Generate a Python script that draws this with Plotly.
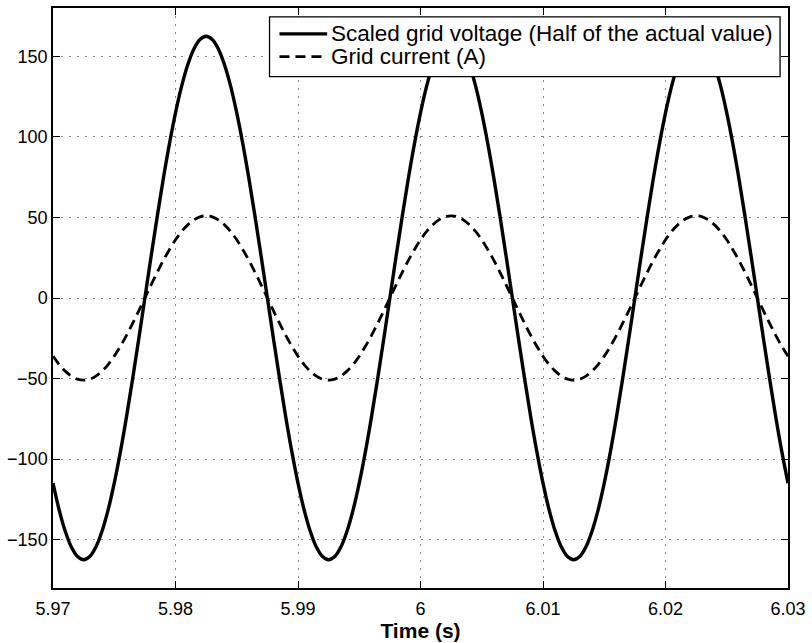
import numpy as np
import plotly.graph_objects as go

# Time axis: 5.970 s to 6.030 s, 0.5 ms sampling
time_s = np.round(np.linspace(5.970, 6.030, 121), 4)

voltage_scaled = [
    -114.9, -131.5, -144.8, -154.6, -160.5, -162.5, -160.5, -154.6, -144.8, -131.5,
    -114.9, -95.5, -73.8, -50.2, -25.4, 0.0, 25.4, 50.2, 73.8, 95.5,
    114.9, 131.5, 144.8, 154.6, 160.5, 162.5, 160.5, 154.6, 144.8, 131.5,
    114.9, 95.5, 73.8, 50.2, 25.4, 0.0, -25.4, -50.2, -73.8, -95.5,
    -114.9, -131.5, -144.8, -154.6, -160.5, -162.5, -160.5, -154.6, -144.8, -131.5,
    -114.9, -95.5, -73.8, -50.2, -25.4, 0.0, 25.4, 50.2, 73.8, 95.5,
    114.9, 131.5, 144.8, 154.6, 160.5, 162.5, 160.5, 154.6, 144.8, 131.5,
    114.9, 95.5, 73.8, 50.2, 25.4, 0.0, -25.4, -50.2, -73.8, -95.5,
    -114.9, -131.5, -144.8, -154.6, -160.5, -162.5, -160.5, -154.6, -144.8, -131.5,
    -114.9, -95.5, -73.8, -50.2, -25.4, 0.0, 25.4, 50.2, 73.8, 95.5,
    114.9, 131.5, 144.8, 154.6, 160.5, 162.5, 160.5, 154.6, 144.8, 131.5,
    114.9, 95.5, 73.8, 50.2, 25.4, 0.0, -25.4, -50.2, -73.8, -95.5,
    -114.9,
]

grid_current = [
    -36.1, -41.3, -45.4, -48.5, -50.4, -51.0, -50.4, -48.5, -45.4, -41.3,
    -36.1, -30.0, -23.2, -15.8, -8.0, 0.0, 8.0, 15.8, 23.2, 30.0,
    36.1, 41.3, 45.4, 48.5, 50.4, 51.0, 50.4, 48.5, 45.4, 41.3,
    36.1, 30.0, 23.2, 15.8, 8.0, 0.0, -8.0, -15.8, -23.2, -30.0,
    -36.1, -41.3, -45.4, -48.5, -50.4, -51.0, -50.4, -48.5, -45.4, -41.3,
    -36.1, -30.0, -23.2, -15.8, -8.0, 0.0, 8.0, 15.8, 23.2, 30.0,
    36.1, 41.3, 45.4, 48.5, 50.4, 51.0, 50.4, 48.5, 45.4, 41.3,
    36.1, 30.0, 23.2, 15.8, 8.0, 0.0, -8.0, -15.8, -23.2, -30.0,
    -36.1, -41.3, -45.4, -48.5, -50.4, -51.0, -50.4, -48.5, -45.4, -41.3,
    -36.1, -30.0, -23.2, -15.8, -8.0, 0.0, 8.0, 15.8, 23.2, 30.0,
    36.1, 41.3, 45.4, 48.5, 50.4, 51.0, 50.4, 48.5, 45.4, 41.3,
    36.1, 30.0, 23.2, 15.8, 8.0, 0.0, -8.0, -15.8, -23.2, -30.0,
    -36.1,
]

series_names = ["Scaled grid voltage (Half of the actual value)", "Grid current (A)"]
x_tick_vals = [5.97, 5.98, 5.99, 6.0, 6.01, 6.02, 6.03]
x_tick_text = ["5.97", "5.98", "5.99", "6", "6.01", "6.02", "6.03"]
y_tick_vals = [-150, -100, -50, 0, 50, 100, 150]

FONT = "Liberation Sans, Arial, Helvetica"
styles = [
    dict(color="black", width=3.4),
    dict(color="black", width=2.8, dash="10px,6px"),
]

fig = go.Figure()
fig.add_trace(go.Scatter(
    x=time_s, y=voltage_scaled, mode="lines", name=series_names[0],
    line=dict(**styles[0], shape="spline"), showlegend=False,
))
fig.add_trace(go.Scatter(
    x=time_s, y=grid_current, mode="lines", name=series_names[1],
    line=dict(**styles[1], shape="spline"), showlegend=False,
))

axis_common = dict(
    showline=True, linecolor="black", linewidth=1.5, mirror="ticks",
    ticks="inside", ticklen=7, tickcolor="black", tickwidth=1,
    showgrid=True, gridcolor="#8a8a8a", griddash="2px,6px", gridwidth=1,
    zeroline=False,
    tickfont=dict(family=FONT, size=18, color="black"),
)

fig.update_xaxes(
    range=[5.97, 6.03], tickvals=x_tick_vals, ticktext=x_tick_text,
    ticklabelstandoff=4,
    title=dict(text="<b>Time (s)</b>", font=dict(family=FONT, size=21, color="black"), standoff=3),
    **axis_common,
)
fig.update_yaxes(
    range=[-180, 180], tickvals=y_tick_vals,
    **axis_common,
)

# Legend box drawn in paper coordinates (MATLAB-style compact legend)
box = dict(x0=0.2946, x1=0.9892, y0=0.8816, y1=0.9846)
row_y = [0.9554, 0.9160]
sample_x = (0.3081, 0.3730)
text_x = 0.3770

fig.add_shape(type="rect", xref="paper", yref="paper", **box,
              line=dict(color="black", width=1.3), fillcolor="white", layer="above")
for name, st, yy in zip(series_names, styles, row_y):
    fig.add_shape(type="line", xref="paper", yref="paper",
                  x0=sample_x[0], x1=sample_x[1], y0=yy, y1=yy,
                  line=st, layer="above")
    fig.add_annotation(xref="paper", yref="paper", x=text_x, y=yy,
                       xanchor="left", yanchor="middle", showarrow=False,
                       text=name, borderpad=0,
                       font=dict(family=FONT, size=22.5, color="black"))

fig.update_layout(
    width=812, height=643,
    margin=dict(l=53, r=19, t=6, b=54),
    paper_bgcolor="white", plot_bgcolor="white",
    showlegend=False,
)

fig.write_html("out.html", post_script="document.body.style.margin='0px';",
               config={"displayModeBar": False})
